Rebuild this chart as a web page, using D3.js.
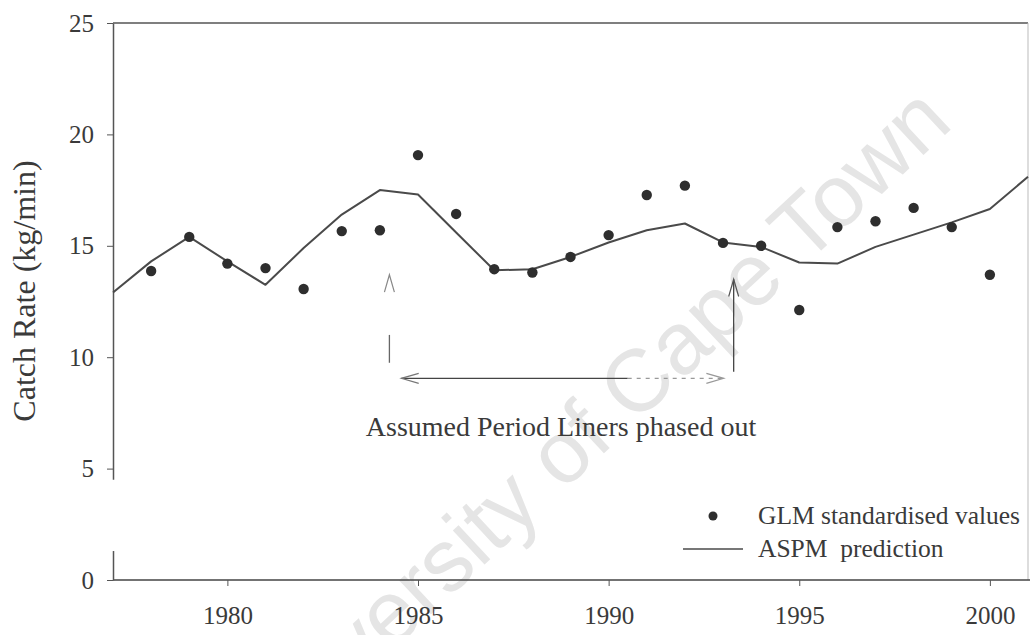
<!DOCTYPE html>
<html>
<head>
<meta charset="utf-8">
<script src="https://cdn.jsdelivr.net/npm/d3@7"></script>
<style>
  html, body { margin: 0; padding: 0; background: #fff; }
  svg { display: block; }
  text { font-family: "Liberation Serif", "Times New Roman", serif; fill: #3a3a3a; }
</style>
</head>
<body>
<svg id="chart" width="1030" height="635"></svg>
<script>
// Years and values
const aspmYears = [1977, 1978, 1979, 1980, 1981, 1982, 1983, 1984, 1985, 1986, 1987, 1988, 1989,
                   1990, 1991, 1992, 1993, 1994, 1995, 1996, 1997, 1998, 1999, 2000, 2001];
const aspmPrediction = [12.9, 14.3, 15.4, 14.3, 13.25, 14.9, 16.4, 17.5, 17.3, 15.6, 13.9, 13.95, 14.5,
                        15.15, 15.7, 16.0, 15.15, 14.95, 14.25, 14.2, 14.95, 15.5, 16.05, 16.65, 18.1];
const glmYears = [1978, 1979, 1980, 1981, 1982, 1983, 1984, 1985, 1986, 1987, 1988, 1989,
                  1990, 1991, 1992, 1993, 1994, 1995, 1996, 1997, 1998, 1999, 2000];
const glmValues = [13.87, 15.4, 14.2, 14.0, 13.06, 15.66, 15.7, 19.07, 16.43, 13.95, 13.8, 14.5,
                   15.48, 17.28, 17.7, 15.13, 15.0, 12.12, 15.84, 16.1, 16.7, 15.84, 13.7];
const xTicks = [1980, 1985, 1990, 1995, 2000];
const yTicks = [0, 5, 10, 15, 20, 25];
const yTitle = "Catch Rate (kg/min)";
const annotation = "Assumed Period Liners phased out";
const periodStart = 1984.25, periodEnd = 1993.28;
const legendLabels = ["GLM standardised values", "ASPM\u00a0 prediction"];

const svg = d3.select("#chart");
const ink = "#3a3a3a";

const x = d3.scaleLinear().domain([1977, 2001]).range([113, 1028]);
const y = d3.scaleLinear().domain([0, 25]).range([580, 23]);

// Faint repository watermark, behind the plot
svg.append("text")
  .attr("transform", "translate(262,772) rotate(-43)")
  .style("font-family", "'Liberation Sans', Arial, sans-serif")
  .style("font-size", "88px")
  .style("fill", "#e5e5e5")
  .text("University of Cape Town");

// Frame: top and right edges
svg.append("line").attr("x1", x(1977)).attr("x2", x(2001)).attr("y1", y(25)).attr("y2", y(25))
  .attr("stroke", "#555").attr("stroke-width", 1.5);
svg.append("line").attr("x1", x(2001)).attr("x2", x(2001)).attr("y1", y(25)).attr("y2", y(0))
  .attr("stroke", "#bbb").attr("stroke-width", 1);

// X axis
const xAxis = svg.append("g")
  .attr("transform", `translate(0,${y(0)})`)
  .call(d3.axisBottom(x).tickValues(xTicks).tickFormat(d3.format("d")).tickSize(6).tickSizeOuter(0).tickPadding(20));
xAxis.select(".domain").attr("stroke", "#444").attr("stroke-width", 1.5).attr("d", `M${x(1977)},0H1030`);
xAxis.selectAll(".tick line").attr("stroke", "#555");
xAxis.selectAll(".tick text").style("font-size", "25px").style("font-family", "'Liberation Serif', serif").attr("fill", ink);

// Y axis
const yAxis = svg.append("g")
  .attr("transform", `translate(${x(1977)},0)`)
  .call(d3.axisLeft(y).tickValues(yTicks).tickSize(6).tickSizeOuter(0).tickPadding(13));
yAxis.select(".domain").attr("stroke", "#555").attr("stroke-width", 1.5);
yAxis.selectAll(".tick line").attr("stroke", "#555");
yAxis.selectAll(".tick text").style("font-size", "25px").style("font-family", "'Liberation Serif', serif").attr("fill", ink);
// break in the left spine just above the zero line
svg.append("rect").attr("x", x(1977) - 2).attr("y", y(4.5)).attr("width", 4).attr("height", y(1.3) - y(4.5))
  .attr("fill", "#fff");

// Y title
svg.append("text")
  .attr("transform", "translate(35,291) rotate(-90)")
  .attr("text-anchor", "middle")
  .style("font-size", "32px")
  .text(yTitle);

// ASPM prediction line
const aspm = aspmYears.map((yr, i) => ({ yr, v: aspmPrediction[i] }));
svg.append("path")
  .datum(aspm)
  .attr("fill", "none")
  .attr("stroke", "#4a4a4a")
  .attr("stroke-width", 2)
  .attr("stroke-linejoin", "round")
  .attr("d", d3.line().x(d => x(d.yr)).y(d => y(d.v)));

// GLM standardised points
const glm = glmYears.map((yr, i) => ({ yr, v: glmValues[i] }));
svg.append("g").selectAll("circle")
  .data(glm)
  .join("circle")
  .attr("cx", d => x(d.yr))
  .attr("cy", d => y(d.v))
  .attr("r", 5.2)
  .attr("fill", "#2e2e2e");

// Period annotation: arrows
function arrowHead(g, px, py, dir, color) {
  // open arrowhead; dir = angle in degrees the arrow points to
  const a = dir * Math.PI / 180, len = 18, spread = 0.28;
  const p1 = [px - len * Math.cos(a - spread), py - len * Math.sin(a - spread)];
  const p2 = [px - len * Math.cos(a + spread), py - len * Math.sin(a + spread)];
  g.append("path").attr("d", `M${p1}L${px},${py}L${p2}`)
    .attr("fill", "none").attr("stroke", color).attr("stroke-width", 1.2);
}
const ann = svg.append("g");
const xs = x(periodStart), xe = x(periodEnd);
// left vertical marker (faded)
ann.append("line").attr("x1", xs).attr("x2", xs).attr("y1", y(11.0)).attr("y2", y(9.75))
  .attr("stroke", "#666").attr("stroke-width", 1.3);
arrowHead(ann, xs, y(13.7), -90, "#888");
// right vertical arrow
ann.append("line").attr("x1", xe).attr("x2", xe).attr("y1", y(9.35)).attr("y2", y(13.5))
  .attr("stroke", "#444").attr("stroke-width", 1.3);
arrowHead(ann, xe, y(13.5), -90, "#555");
// horizontal double arrow
const yh = y(9.05);
ann.append("line").attr("x1", xs + 12).attr("x2", x(1990.5)).attr("y1", yh).attr("y2", yh)
  .attr("stroke", "#444").attr("stroke-width", 1.3);
ann.append("line").attr("x1", x(1990.5)).attr("x2", xe - 10).attr("y1", yh).attr("y2", yh)
  .attr("stroke", "#999").attr("stroke-width", 1.2).attr("stroke-dasharray", "4,5");
arrowHead(ann, xs + 12, yh, 180, "#777");
arrowHead(ann, xe - 10, yh, 0, "#999");

ann.append("text")
  .attr("x", 561)
  .attr("y", y(6.45))
  .attr("text-anchor", "middle")
  .style("font-size", "28px")
  .text(annotation);

// Legend
const lg = svg.append("g");
lg.append("circle").attr("cx", 713).attr("cy", 516).attr("r", 4.5).attr("fill", "#2e2e2e");
lg.append("text").attr("x", 758).attr("y", 524).style("font-size", "25.5px").text(legendLabels[0]);
lg.append("line").attr("x1", 683).attr("x2", 743).attr("y1", 549).attr("y2", 549)
  .attr("stroke", "#4a4a4a").attr("stroke-width", 1.5);
lg.append("text").attr("x", 758).attr("y", 557).style("font-size", "25.5px").text(legendLabels[1]);
</script>
</body>
</html>
